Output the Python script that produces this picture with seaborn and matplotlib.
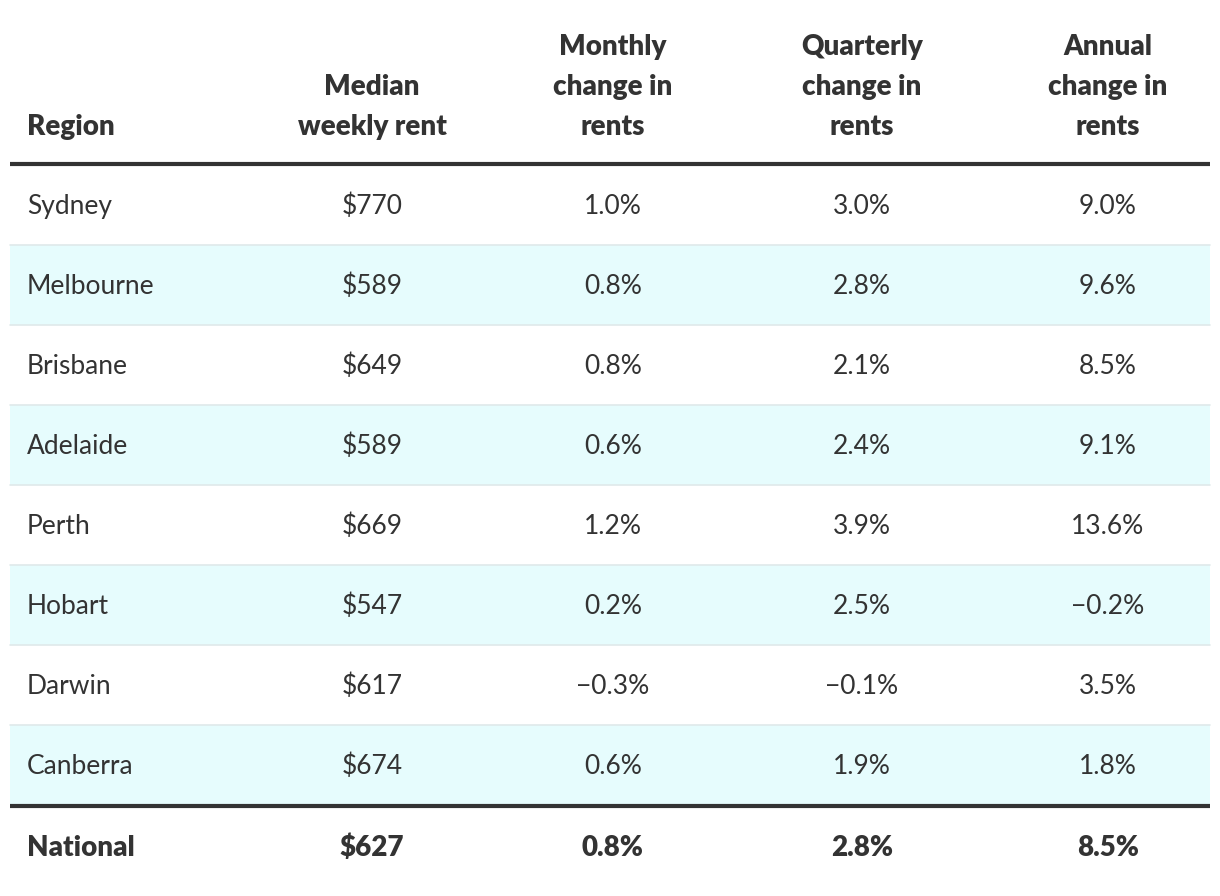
import matplotlib
matplotlib.use("Agg")
import matplotlib.pyplot as plt
from matplotlib.colors import ListedColormap
import numpy as np
import seaborn as sns

regions = ["Sydney", "Melbourne", "Brisbane", "Adelaide", "Perth", "Hobart", "Darwin", "Canberra"]
median_rent = [770, 589, 649, 589, 669, 547, 617, 674]
monthly = [1.0, 0.8, 0.8, 0.6, 1.2, 0.2, -0.3, 0.6]
quarterly = [3.0, 2.8, 2.1, 2.4, 3.9, 2.5, -0.1, 1.9]
annual = [9.0, 9.6, 8.5, 9.1, 13.6, -0.2, 3.5, 1.8]
national = ["National", 627, 0.8, 2.8, 8.5]
headers = ["Region", "Median\nweekly rent", "Monthly\nchange in\nrents",
           "Quarterly\nchange in\nrents", "Annual\nchange in\nrents"]

sns.set_theme(style="white")
plt.rcParams['font.family'] = ['Lato', 'DejaVu Sans']

W, H = 1220, 896
fig = plt.figure(figsize=(W / 100, H / 100), dpi=100)

# layout (pixels)
left, right = 10, 1210
top_rows, row_h = 165, 80
n = len(regions)
bottom_rows = top_rows + n * row_h

# striped background via seaborn heatmap
stripe = np.array([[i % 2] for i in range(n)])
hax = fig.add_axes([left / W, 1 - bottom_rows / H, (right - left) / W, (n * row_h) / H])
sns.heatmap(stripe, ax=hax, cmap=ListedColormap(["#ffffff", "#e6fcfd"]), cbar=False,
            xticklabels=False, yticklabels=False, linewidths=0)
hax.set_axis_off()

ax = fig.add_axes([0, 0, 1, 1], facecolor="none")
ax.set_xlim(0, W)
ax.set_ylim(H, 0)
ax.set_axis_off()

txt = "#333333"
fs = 19.0
fsb = 20.0
col_x = [27, 372, 613, 862, 1108]

def fmt_pct(v):
    s = f"{abs(v):.1f}%"
    return ("\u2212" + s) if v < 0 else s

# header
for j, h in enumerate(headers):
    lines = h.split("\n")
    for k, line in enumerate(reversed(lines)):
        y = 127 - 40 * k
        ax.text(col_x[j], y, line, ha="left" if j == 0 else "center", va="center",
                fontsize=fsb, fontweight="heavy", color=txt)

# row separators
for i in range(1, n):
    y = top_rows + i * row_h
    ax.plot([left, right], [y, y], color="#dfe9ea", lw=1.2)

ax.plot([left, right], [164, 164], color="#333333", lw=3.0, solid_capstyle="butt")
ax.plot([left, right], [806, 806], color="#333333", lw=3.0, solid_capstyle="butt")

for i in range(n):
    y = top_rows + i * row_h + row_h / 2 + 1.5
    vals = [regions[i], f"${median_rent[i]}", fmt_pct(monthly[i]), fmt_pct(quarterly[i]), fmt_pct(annual[i])]
    for j, v in enumerate(vals):
        ax.text(col_x[j], y, v, ha="left" if j == 0 else "center", va="center",
                fontsize=fs, color=txt)

nat_vals = [national[0], f"${national[1]}", fmt_pct(national[2]), fmt_pct(national[3]), fmt_pct(national[4])]
for j, v in enumerate(nat_vals):
    ax.text(col_x[j], 848, v, ha="left" if j == 0 else "center", va="center",
            fontsize=fsb, fontweight="heavy", color=txt)

fig.savefig("out.png", dpi=100, facecolor="white")
